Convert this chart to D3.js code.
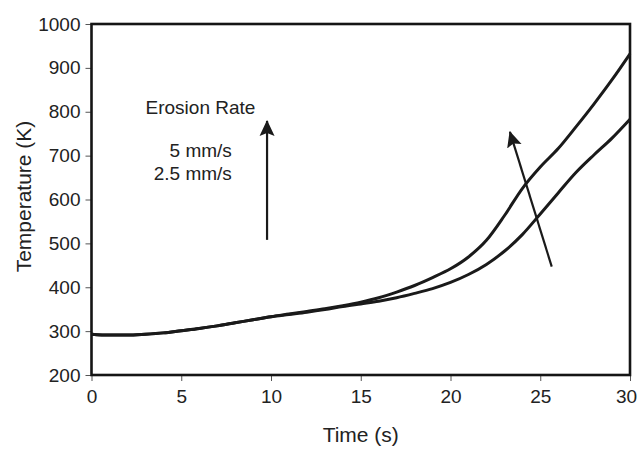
<!DOCTYPE html>
<html>
<head>
<meta charset="utf-8">
<script src="https://cdn.jsdelivr.net/npm/d3@7"></script>
<style>
  body { margin: 0; background: #fff; }
  svg { font-family: "Liberation Sans", Arial, sans-serif; }
  .tick text { font-size: 19px; fill: #222; }
  .tick line { stroke: #555; }
</style>
</head>
<body>
<svg id="chart"></svg>
<script>
// time (s)
const time = [0,1,2,3,4,5,6,7,8,9,10,11,12,13,14,15,16,17,18,19,20,21,22,23,24,25,26,27,28,29,30];
// temperature (K), erosion rate 5 mm/s
const temp5 = [293,291,291,293,296,301,306,312,319,326,333,339,345,351,358,366,376,389,404,422,442,469,507,563,625,674,716,766,818,873,932];
// temperature (K), erosion rate 2.5 mm/s
const temp25 = [293,291,291,293,296,301,306,312,319,326,333,338,343,349,356,362,368,376,386,397,411,429,452,482,520,567,615,662,702,740,783];
const xTicks = [0,5,10,15,20,25,30];
const yTicks = [200,300,400,500,600,700,800,900,1000];

// annotation arrows in data units [time, temp]
const arrowUp = {from: [9.78, 508], to: [9.78, 779]};
const arrowSlant = {from: [25.64, 447], to: [23.31, 754]};

const margin = {top: 24, right: 8, bottom: 76, left: 91.5},
    width = 638 - margin.left - margin.right,
    height = 451 - margin.top - margin.bottom;

const root = d3.select("#chart")
    .attr("width", 638)
    .attr("height", 451);

const svg = root.append("g")
    .attr("transform", `translate(${margin.left},${margin.top})`);

const x = d3.scaleLinear().domain([0, 30]).range([0, width]);
const y = d3.scaleLinear().domain([200, 1000]).range([height, 0]);

// axes
const xAxis = svg.append("g")
    .attr("transform", `translate(0,${height})`)
    .call(d3.axisBottom(x).tickValues(xTicks).tickSize(6).tickSizeOuter(0).tickPadding(9));
xAxis.select(".domain").remove();
xAxis.selectAll(".tick").filter(d => d === 30).select("text").attr("dx", -4);

const yAxis = svg.append("g")
    .call(d3.axisLeft(y).tickValues(yTicks).tickFormat(d3.format("d")).tickSize(6).tickSizeOuter(0).tickPadding(5));
yAxis.select(".domain").remove();

// frame
svg.append("rect")
    .attr("x", 0).attr("y", 0)
    .attr("width", width).attr("height", height)
    .attr("fill", "none")
    .attr("stroke", "#151515")
    .attr("stroke-width", 2.6);

// lines
const line = d3.line()
    .x((d, i) => x(time[i]))
    .y(d => y(d))
    .curve(d3.curveMonotoneX);

[temp5, temp25].forEach(series => {
  svg.append("path")
      .datum(series)
      .attr("fill", "none")
      .attr("stroke", "#1a1a1a")
      .attr("stroke-width", 3)
      .attr("d", line);
});

// arrowhead
root.append("defs").append("marker")
    .attr("id", "head")
    .attr("markerUnits", "userSpaceOnUse")
    .attr("viewBox", "0 0 16 16")
    .attr("refX", 15).attr("refY", 8)
    .attr("markerWidth", 16).attr("markerHeight", 16)
    .attr("orient", "auto")
  .append("path")
    .attr("d", "M0,0.5 L16,8 L0,15.5 L3,8 Z")
    .attr("fill", "#1a1a1a");

[arrowUp, arrowSlant].forEach(a => {
  svg.append("line")
      .attr("x1", x(a.from[0])).attr("y1", y(a.from[1]))
      .attr("x2", x(a.to[0])).attr("y2", y(a.to[1]))
      .attr("stroke", "#1a1a1a")
      .attr("stroke-width", 2.2)
      .attr("marker-end", "url(#head)");
});

// legend-ish labels
svg.append("text")
    .attr("x", x(9.13)).attr("y", y(794))
    .attr("text-anchor", "end")
    .style("font-size", "19px").style("fill", "#222")
    .text("Erosion Rate");
svg.append("text")
    .attr("x", x(7.82)).attr("y", y(697))
    .attr("text-anchor", "end")
    .style("font-size", "19px").style("fill", "#222")
    .text("5 mm/s");
svg.append("text")
    .attr("x", x(7.82)).attr("y", y(644))
    .attr("text-anchor", "end")
    .style("font-size", "19px").style("fill", "#222")
    .text("2.5 mm/s");

// axis titles
svg.append("text")
    .attr("x", width / 2)
    .attr("y", height + 67)
    .attr("text-anchor", "middle")
    .style("font-size", "21px").style("fill", "#222")
    .text("Time (s)");

svg.append("text")
    .attr("transform", "rotate(-90)")
    .attr("x", -height / 2 + 3)
    .attr("y", -margin.left + 31)
    .attr("text-anchor", "middle")
    .style("font-size", "21px").style("fill", "#222")
    .text("Temperature (K)");
</script>
</body>
</html>
